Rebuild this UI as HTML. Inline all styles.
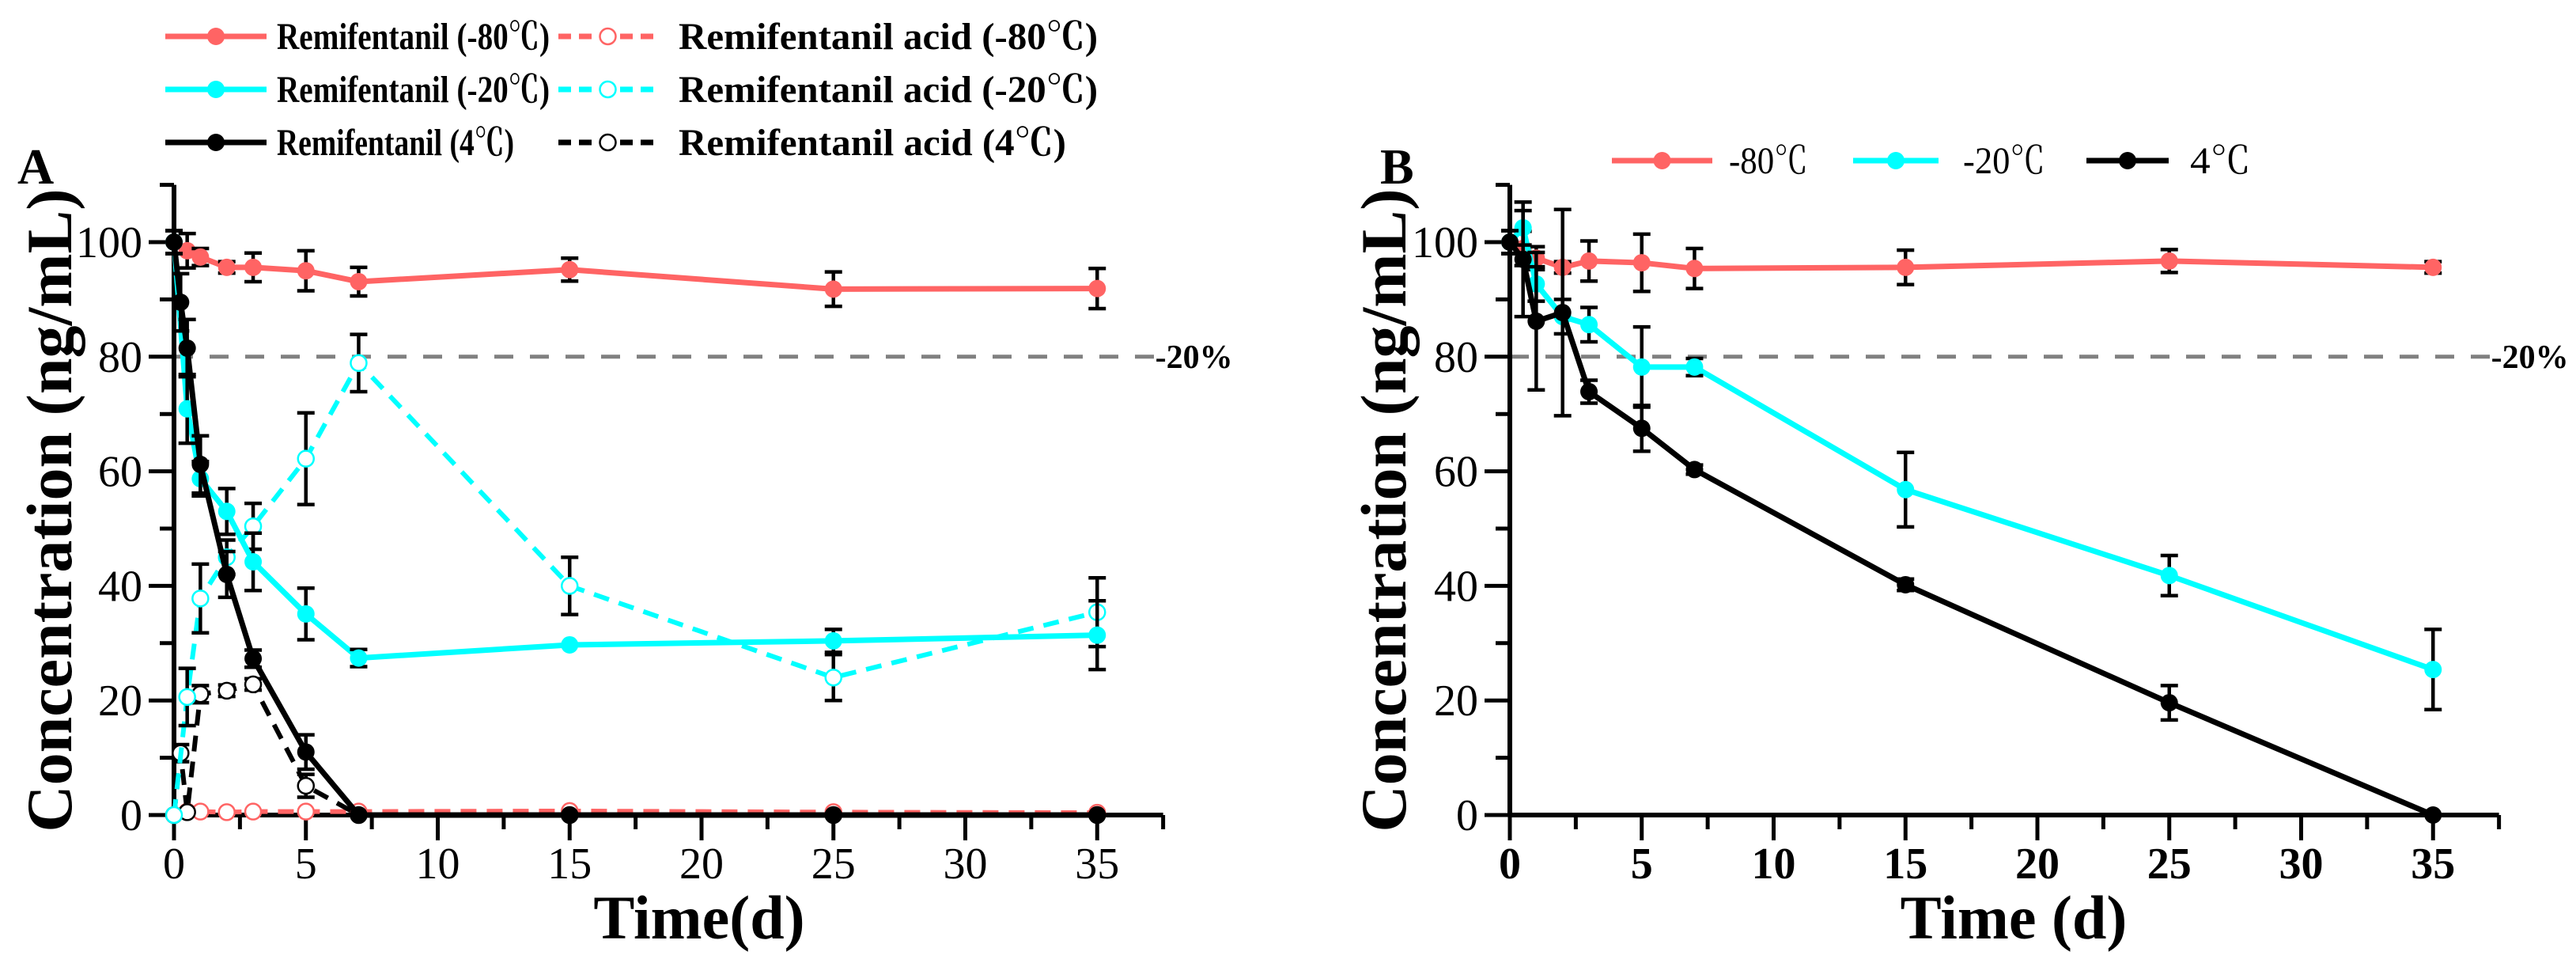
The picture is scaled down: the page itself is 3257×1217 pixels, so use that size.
<!DOCTYPE html>
<html><head><meta charset="utf-8"><style>
html,body{margin:0;padding:0;background:#fff}
svg{display:block;font-family:"Liberation Serif","Noto Serif CJK SC",serif}
</style></head><body>
<svg id="chart" width="3257" height="1217" viewBox="0 0 3257 1217" xmlns="http://www.w3.org/2000/svg"></svg>
<script>
const NS="http://www.w3.org/2000/svg";
const xTicks=[0,5,10,15,20,25,30,35];
const yTicks=[0,20,40,60,80,100];
// Panel A data
const aX=[0,0.5,1,2,3,5,7,15,25,35];
const aX4=[0,0.25,0.5,1,2,3,5,7,15,25,35];
const aRem80=[100,98.5,97.4,95.6,95.6,95,93.1,95.2,91.8,91.9];
const aRem80Err=[2,3,1.5,1,2.5,3.5,2.5,2,3,3.5];
const aRem20=[100,70.9,58.7,53,44.2,35.1,27.4,29.7,30.4,31.4];
const aRem20Err=[2,6,3,4,5,4.5,1.5,0.5,2,6];
const aRem4=[100,89.5,81.5,61.2,42,27.3,11,0,0,0,0];
const aRem4Err=[2,5,5,5,4,1.5,3,0.3,0.3,0.3,0.3];
const aAcid80=[0,0.6,0.6,0.5,0.6,0.6,0.6,0.7,0.5,0.4];
const aAcid80Err=[0,0.3,0.3,0.3,0.3,0.3,0.3,0.3,0.3,0.3];
const aAcid20=[0,20.6,37.8,45,50.4,62.2,78.9,40,24,35.4];
const aAcid20Err=[0,5,6,3,4,8,5,5,4,6];
const aAcid4=[0,10.8,0.5,21.1,21.7,22.8,5.1,0,0,0,0];
const aAcid4Err=[0,1.5,0.3,1.5,1,1,2,0.2,0.2,0.2,0.2];
// Panel B data
const bX=[0,0.5,1,2,3,5,7,15,25,35];
const b80=[100,98.9,97.2,95.6,96.7,96.4,95.4,95.6,96.7,95.6];
const b80Err=[2,3,2,1,3.5,5,3.5,3,2,1];
const b20=[100,102.5,92.7,87,85.6,78.2,78.2,56.8,41.8,25.4];
const b20Err=[2,3,3,3,3,7,1.5,6.5,3.5,7];
const b4=[100,97,86.2,87.7,73.9,67.5,60.3,40.2,19.6,0];
const b4Err=[2,10,12,18,2,4,0.8,1,3,0.3];

const svg=document.getElementById('chart');
function mk(tag,attrs,parent){const e=document.createElementNS(NS,tag);for(const k in attrs)e.setAttribute(k,attrs[k]);(parent||svg).appendChild(e);return e;}
const RED="#ff6464",CYAN="#00ffff",BLK="#000";
const Y0=1030, YPU=7.24, XMAX=37.5, YMAX=110;

function panel(name,x0,ppd,boldX){
  const g=mk('g',{});
  
  
  const sx=v=>x0+v*ppd, sy=v=>Y0-v*YPU;
  const rl=mk('line',{x1:x0,y1:sy(80),x2:sx(37.4),y2:sy(80),stroke:'#808080','stroke-width':5,'stroke-dasharray':'24 21'},g);
  
  
  const rt=mk('text',{x:sx(37.5)-10,y:sy(80)+14,'font-size':42,'font-weight':'bold'},g);rt.textContent='-20%';
  
  
  const ax=mk('g',{},g);
  
  
  mk('line',{x1:x0,y1:sy(YMAX),x2:x0,y2:Y0+2,stroke:BLK,'stroke-width':6},ax);
  mk('line',{x1:x0-2,y1:Y0,x2:sx(XMAX),y2:Y0,stroke:BLK,'stroke-width':6},ax);
  for(let v=0;v<=XMAX+0.01;v+=2.5){const maj=v%5===0;mk('line',{x1:sx(v),y1:Y0,x2:sx(v),y2:Y0+(maj?32:18),stroke:BLK,'stroke-width':5},ax);}
  for(let v=0;v<=YMAX;v+=10){const maj=v%20===0;mk('line',{x1:x0,y1:sy(v),x2:x0-(maj?32:18),y2:sy(v),stroke:BLK,'stroke-width':5},ax);}
  xTicks.forEach(t=>{const e=mk('text',{x:sx(t),y:1110,'font-size':56,'text-anchor':'middle','font-weight':boldX?'bold':'normal'},ax);e.textContent=t;
    
    });
  yTicks.forEach(t=>{const e=mk('text',{x:x0-40,y:sy(t)+19,'font-size':56,'text-anchor':'end'},ax);e.textContent=t;
    
    });
  return {g,sx,sy};
}
function series(p,name,xs,ys,es,color,dashed,open){
  const g=mk('g',{},p.g);
  
  
  const pts=xs.map((x,i)=>p.sx(x)+','+p.sy(ys[i])).join(' ');
  mk('polyline',{points:pts,fill:'none',stroke:color,'stroke-width':dashed?6:7,'stroke-dasharray':dashed?'20 13':'none','stroke-linejoin':'round'},g);
  xs.forEach((x,i)=>{
    const cx=p.sx(x),cy=p.sy(ys[i]),e=es[i];
    if(e>0.5){
      const eb=mk('path',{d:`M${cx},${p.sy(ys[i]+e)}V${p.sy(ys[i]-e)}M${cx-11},${p.sy(ys[i]+e)}h22M${cx-11},${p.sy(ys[i]-e)}h22`,stroke:BLK,'stroke-width':4.5,fill:'none'},g);
      
      
    }
    const c=mk('circle',{cx,cy,r:open?10:11,fill:open?'#fff':color,stroke:color,'stroke-width':open?2.5:0},g);
    
    
  });
}
const A=panel('panel-a',220,33.35,false);
series(A,'series-acid-80',aX,aAcid80,aAcid80Err,RED,true,true);
series(A,'series-acid-4',aX4,aAcid4,aAcid4Err,BLK,true,true);
series(A,'series-acid-20',aX,aAcid20,aAcid20Err,CYAN,true,true);
series(A,'series-rem-80',aX,aRem80,aRem80Err,RED,false,false);
series(A,'series-rem-20',aX,aRem20,aRem20Err,CYAN,false,false);
series(A,'series-rem-4',aX4,aRem4,aRem4Err,BLK,false,false);
const B=panel('panel-b',1909,33.35,true);
series(B,'series-b-80',bX,b80,b80Err,RED,false,false);
series(B,'series-b-20',bX,b20,b20Err,CYAN,false,false);
series(B,'series-b-4',bX,b4,b4Err,BLK,false,false);

function txt(s,attrs,name){const e=mk('text',attrs);e.textContent=s;
  
  return e;}
txt('A',{x:22,y:232,'font-size':64,'font-weight':'bold'},'panel-a-label');
txt('B',{x:1745,y:232,'font-size':64,'font-weight':'bold'},'panel-b-label');
txt('Time(d)',{x:884,y:1186,'font-size':78,'font-weight':'bold','text-anchor':'middle'},'x-axis-title-a');
txt('Time (d)',{x:2546,y:1186,'font-size':78,'font-weight':'bold','text-anchor':'middle'},'x-axis-title-b');
txt('Concentration (ng/mL)',{x:0,y:0,'font-size':82,'font-weight':'bold','text-anchor':'middle',transform:'translate(90,645) rotate(-90)'},'y-axis-title-a');
txt('Concentration (ng/mL)',{x:0,y:0,'font-size':82,'font-weight':'bold','text-anchor':'middle',transform:'translate(1777,645) rotate(-90)'},'y-axis-title-b');

function legend(x1,x2,y,color,dashed,open,label,tx,tw,bold,fs){
  const g=mk('g',{});
  
  
  mk('line',{x1,y1:y,x2,y2:y,stroke:color,'stroke-width':7,'stroke-dasharray':dashed?'16 10':'none'},g);
  mk('circle',{cx:(x1+x2)/2,cy:y,r:open?10:11,fill:open?'#fff':color,stroke:color,'stroke-width':open?2.5:0},g);
  const t=mk('text',{x:tx,y:y+16,'font-size':fs,'font-weight':bold?'bold':'normal',textLength:tw,lengthAdjust:'spacingAndGlyphs'},g);t.textContent=label;
}
legend(209,337,46,RED,false,false,'Remifentanil (-80℃)',350,345,true,48);
legend(209,337,113,CYAN,false,false,'Remifentanil (-20℃)',350,345,true,48);
legend(209,337,180,BLK,false,false,'Remifentanil (4℃)',350,300,true,48);
legend(706,831,46,RED,true,true,'Remifentanil acid (-80℃)',858,530,true,48);
legend(706,831,113,CYAN,true,true,'Remifentanil acid (-20℃)',858,530,true,48);
legend(706,831,180,BLK,true,true,'Remifentanil acid (4℃)',858,490,true,48);
legend(2038,2165,203,RED,false,false,'-80℃',2186,100,false,48);
legend(2343,2451,203,CYAN,false,false,'-20℃',2482,104,false,48);
legend(2638,2742,203,BLK,false,false,'4℃',2769,77,false,48);
</script>
</body></html>
